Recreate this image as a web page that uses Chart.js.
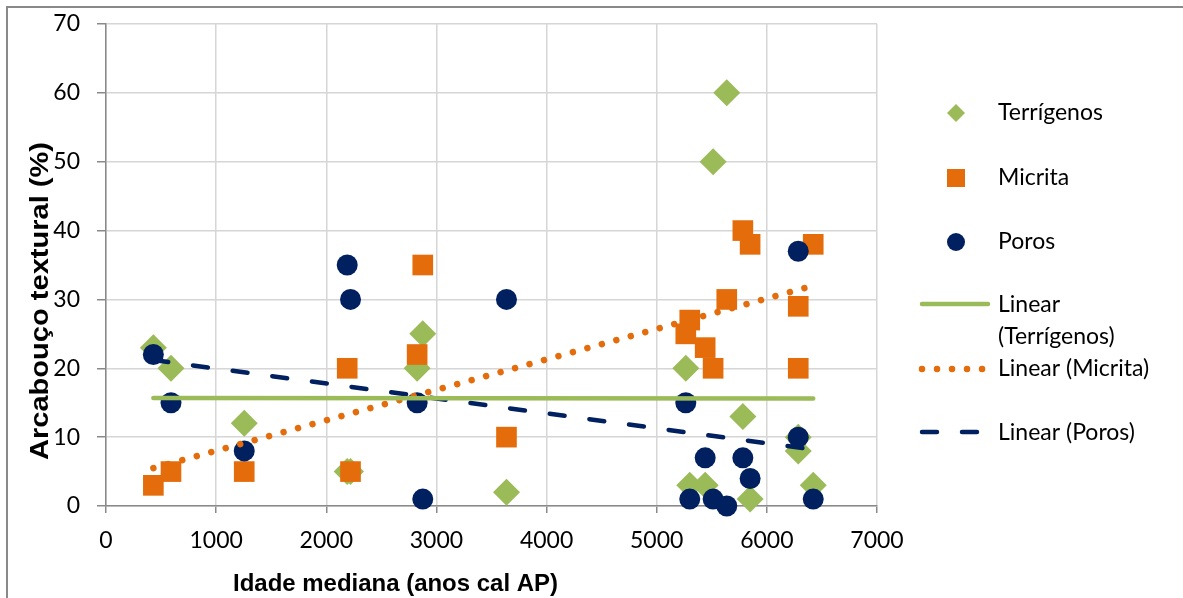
<!DOCTYPE html>
<html><head><meta charset="utf-8">
<script src="https://cdn.jsdelivr.net/npm/chart.js@4.4.1/dist/chart.umd.min.js"></script>
<style>html,body{margin:0;padding:0;background:#fff}canvas{display:block}</style>
</head><body>
<canvas id="c" width="1183" height="598"></canvas>
<script>
// Data
const idade = [430, 590, 1255, 2190, 2220, 2825, 2876, 3636, 5264, 5300, 5440, 5512, 5636, 5782, 5848, 6285, 6285, 6421];
const terrigenos = [23, 20, 12, 5, 5, 20, 25, 2, 20, 3, 3, 50, 60, 13, 1, 10, 8, 3];
const micrita = [3, 5, 5, 20, 5, 22, 35, 10, 25, 27, 23, 20, 30, 40, 38, 20, 29, 38];
const poros = [22, 15, 8, 35, 30, 15, 1, 30, 15, 1, 7, 1, 0, 7, 4, 37, 10, 1];
const trendX = [430, 6421];
const trendTerrigenos = [15.7, 15.6];
const trendMicrita = [5.5, 32.0];
const trendPoros = [21.2, 8.2];
const xTicks = [0, 1000, 2000, 3000, 4000, 5000, 6000, 7000];
const yTicks = [0, 10, 20, 30, 40, 50, 60, 70];
const seriesLabels = ['Terrígenos', 'Micrita', 'Poros', 'Linear (Terrígenos)', 'Linear (Micrita)', 'Linear (Poros)'];

const GREEN = '#9bbb59', ORANGE = '#e46c0a', NAVY = '#002060';
const pts = (xs, ys) => xs.map((x, i) => ({x: x, y: ys[i]}));

const datasets = [
  {label: seriesLabels[0], data: pts(idade, terrigenos), pointStyle: 'rectRot', pointRadius: 13.5,
   backgroundColor: GREEN, borderColor: GREEN, pointBorderWidth: 0, showLine: false, order: 3, clip: false},
  {label: seriesLabels[1], data: pts(idade, micrita), pointStyle: 'rect', pointRadius: 14.6,
   backgroundColor: ORANGE, borderColor: ORANGE, pointBorderWidth: 0, showLine: false, order: 2, clip: false},
  {label: seriesLabels[2], data: pts(idade, poros), pointStyle: 'circle', pointRadius: 10.5,
   backgroundColor: NAVY, borderColor: NAVY, pointBorderWidth: 0, showLine: false, order: 1, clip: false},
  {label: seriesLabels[3], data: pts(trendX, trendTerrigenos), showLine: true, pointRadius: 0,
   borderColor: GREEN, borderWidth: 4.5, borderCapStyle: 'round', order: 0, clip: false},
  {label: seriesLabels[4], data: pts(trendX, trendMicrita), showLine: true, pointRadius: 0,
   borderColor: ORANGE, borderWidth: 6.5, borderDash: [0.01, 15], borderCapStyle: 'round', order: 0, clip: false},
  {label: seriesLabels[5], data: pts(trendX, trendPoros), showLine: true, pointRadius: 0,
   borderColor: NAVY, borderWidth: 4.5, borderDash: [15, 25], borderCapStyle: 'round', order: 0, clip: false}
];

const extras = {
  id: 'extras',
  afterDraw(chart) {
    const ctx = chart.ctx;
    ctx.save();
    // outer frame (top and left edges visible)
    ctx.strokeStyle = '#898989';
    ctx.lineWidth = 2;
    ctx.beginPath();
    ctx.moveTo(7, 598); ctx.lineTo(7, 7); ctx.lineTo(1183, 7);
    ctx.stroke();

    // axis titles
    ctx.fillStyle = '#000';
    ctx.font = 'bold 25px "Liberation Sans", Arial, sans-serif';
    ctx.textBaseline = 'alphabetic';
    ctx.textAlign = 'left';
    let w = ctx.measureText('Arcabouço textural (%)').width;
    ctx.save();
    ctx.translate(48, 460);
    ctx.rotate(-Math.PI / 2);
    ctx.scale(318 / w, 1);
    ctx.fillText('Arcabouço textural (%)', 0, 0);
    ctx.restore();

    ctx.font = 'bold 24px "Liberation Sans", Arial, sans-serif';
    w = ctx.measureText('Idade mediana (anos cal AP)').width;
    ctx.save();
    ctx.translate(233, 591);
    ctx.scale(325 / w, 1);
    ctx.fillText('Idade mediana (anos cal AP)', 0, 0);
    ctx.restore();

    // legend
    const lx = 956, tx = 998;
    ctx.font = '23px Lato, "Open Sans", sans-serif';
    ctx.textBaseline = 'middle';
    const ds = chart.data.datasets;
    ctx.fillStyle = ds[0].backgroundColor;
    ctx.beginPath();
    ctx.moveTo(lx, 113 - 9); ctx.lineTo(lx + 9, 113); ctx.lineTo(lx, 113 + 9); ctx.lineTo(lx - 9, 113); ctx.closePath();
    ctx.fill();
    ctx.fillStyle = ds[1].backgroundColor;
    ctx.fillRect(lx - 9, 178 - 9, 18, 18);
    ctx.fillStyle = ds[2].backgroundColor;
    ctx.beginPath(); ctx.arc(lx, 242, 9, 0, Math.PI * 2); ctx.fill();
    const lineSample = (d, y) => {
      ctx.save();
      ctx.strokeStyle = d.borderColor;
      ctx.lineWidth = d.borderWidth;
      ctx.lineCap = 'round';
      ctx.setLineDash(d.borderDash || []);
      ctx.beginPath(); ctx.moveTo(922, y); ctx.lineTo(988, y); ctx.stroke();
      ctx.restore();
    };
    lineSample(ds[3], 304);
    lineSample(ds[4], 369);
    lineSample(ds[5], 432);
    ctx.fillStyle = '#000';
    ctx.fillText(ds[0].label, tx, 113);
    ctx.fillText(ds[1].label, tx, 178);
    ctx.fillText(ds[2].label, tx, 242);
    ctx.fillText('Linear', tx, 305);
    ctx.fillText('(Terrígenos)', tx, 337);
    ctx.fillText(ds[4].label, tx, 369);
    ctx.fillText(ds[5].label, tx, 433);
    ctx.restore();
  }
};

new Chart(document.getElementById('c'), {
  type: 'scatter',
  data: {datasets: datasets},
  options: {
    responsive: false,
    animation: false,
    events: [],
    layout: {autoPadding: false, padding: {top: 24, right: 306, left: 0, bottom: 0}},
    plugins: {legend: {display: false}, tooltip: {enabled: false}},
    scales: {
      x: {
        type: 'linear', min: 0, max: 7000,
        afterBuildTicks: s => { s.ticks = xTicks.map(v => ({value: v})); },
        afterFit: s => { s.height = 92; s.paddingLeft = 10; s.paddingRight = 10; },
        ticks: {color: '#000', font: {family: 'Lato', size: 23}, padding: 14, maxRotation: 0,
                callback: v => String(v)},
        grid: {color: '#d6d6d6', lineWidth: 1.5, tickColor: '#8a8a8a', tickLength: 7},
        border: {color: '#8a8a8a', width: 1.5}
      },
      y: {
        type: 'linear', min: 0, max: 70,
        afterBuildTicks: s => { s.ticks = yTicks.map(v => ({value: v})); },
        afterFit: s => { s.width = 106; s.paddingTop = 10; s.paddingBottom = 10; },
        ticks: {color: '#000', font: {family: 'Lato', size: 23}, padding: 17, callback: v => String(v)},
        grid: {color: '#d6d6d6', lineWidth: 1.5, tickColor: '#8a8a8a', tickLength: 9},
        border: {color: '#8a8a8a', width: 1.5}
      }
    }
  },
  plugins: [extras]
});
</script>
</body></html>
